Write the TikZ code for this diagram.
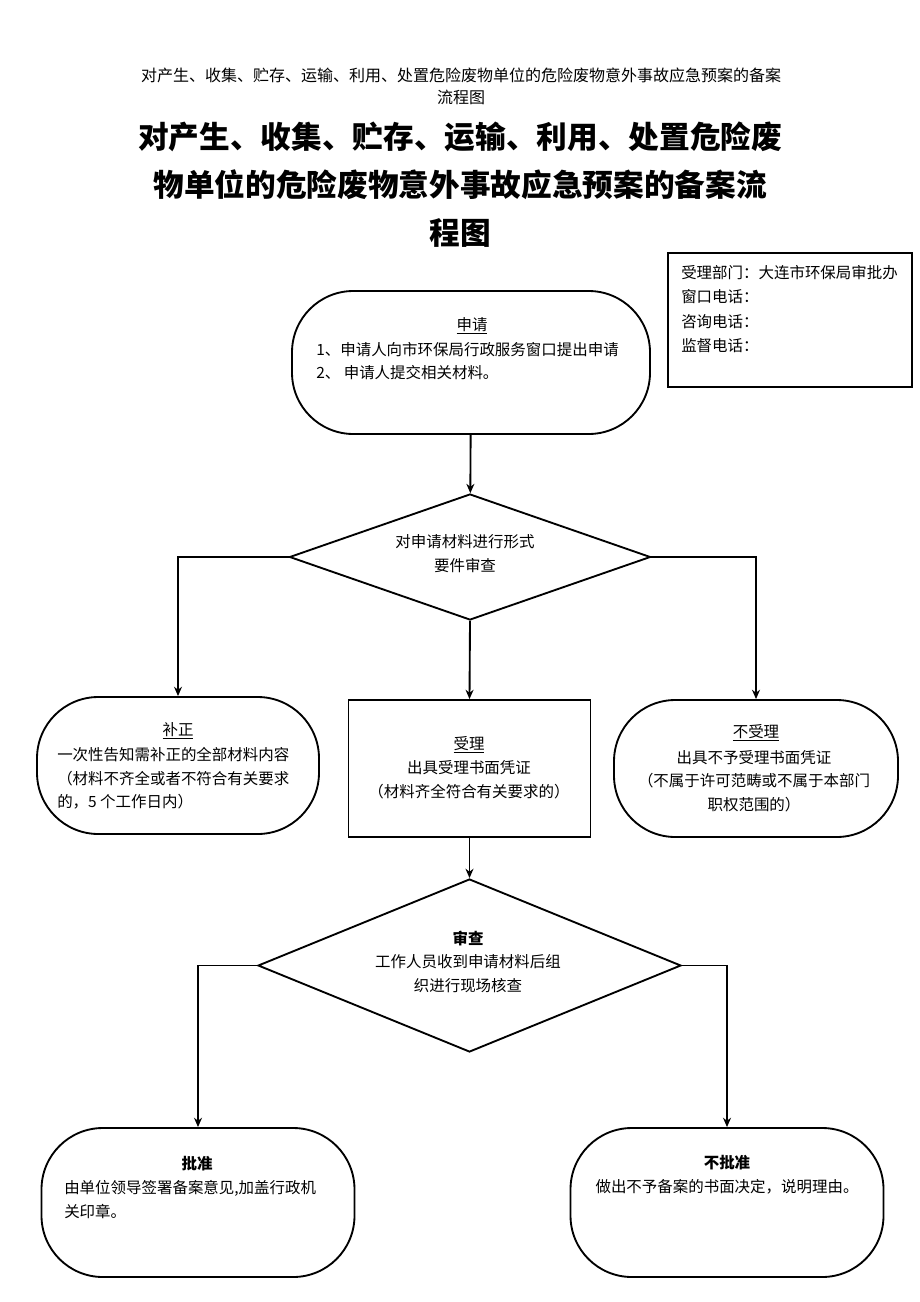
\documentclass[tikz,border=0pt]{standalone}
\usepackage{fontspec}
\newfontfamily\cjk{Noto Sans CJK SC}
\usetikzlibrary{shapes.geometric,arrows.meta}

\newcommand{\flowtxt}{\cjk\fontsize{11.6}{17.6}\selectfont}

\begin{document}
\begin{tikzpicture}[x=0.75pt, y=-0.75pt,
 every edge/.style = {->, >={Stealth[length=7pt,width=6pt]}, draw, line width=1.4pt},
 elbow/.style = {to path={-| (\tikztotarget)}},
 stad/.style args = {#1/#2}{draw, line width=1.4pt, rounded corners=46pt, minimum width=#1, minimum height=#2, inner sep=0pt},
 rbox/.style args = {#1/#2}{draw, line width=1.4pt, minimum width=#1, minimum height=#2, inner sep=0pt},
 dmd/.style args = {#1/#2}{diamond, draw, line width=1.4pt, minimum width=#1, minimum height=#2, inner sep=0pt},
 txt/.style = {font=\flowtxt, inner sep=0pt, align=#1},
 txt/.default = center]

\useasboundingbox (0,0) rectangle (920,1302);

% headings
\node(hd) [font=\cjk\fontsize{12}{16}\selectfont, align=center, inner sep=0pt] at (461,86.5)
  {对产生、收集、贮存、运输、利用、处置危险废物单位的危险废物意外事故应急预案的备案\\流程图};
\node(ttl) [font=\cjk\bfseries\fontsize{23}{36}\selectfont, align=center, inner sep=0pt] at (460,185)
  {对产生、收集、贮存、运输、利用、处置危险废\\物单位的危险废物意外事故应急预案的备案流\\程图};

% contact box
\node(info) [rbox=183pt/100.5pt, line width=0.9pt] at (790,320) {};
\node(info-t) [txt=left, anchor=west, font=\cjk\fontsize{11.6}{18.2}\selectfont] at (681,309)
  {受理部门：大连市环保局审批办\\窗口电话：\\咨询电话：\\监督电话：};

% apply
\node(sq) [stad=268.5pt/107.25pt] at (471,362.5) {};
\node(sq-h) [txt] at (472,326) {\underline{申请}};
\node(sq-t) [txt=left, anchor=west] at (316,361) {1、申请人向市环保局行政服务窗口提出申请\\2、 申请人提交相关材料。};

% formal check
\node(d1) [dmd=270.75pt/94.5pt] at (470,557) {};
\node(d1-t) [txt] at (465,553.5) {对申请材料进行形式\\要件审查};

% three outcomes
\node(bz) [stad=211.5pt/102.75pt] at (178,765.5) {};
\node(bz-h) [txt] at (178,731) {\underline{补正}};
\node(bz-t) [txt=left, anchor=west] at (57,778.5) {一次性告知需补正的全部材料内容\\（材料不齐全或者不符合有关要求\\的，5 个工作日内）};

\node(sl) [rbox=181.5pt/102.75pt] at (469.5,768.5) {};
\node(sl-h) [txt] at (469,745) {\underline{受理}};
\node(sl-t) [txt] at (469,779.5) {出具受理书面凭证\\（材料齐全符合有关要求的）};

\node(bsl) [stad=213pt/102.75pt] at (756,768.5) {};
\node(bsl-h) [txt] at (756,733) {\underline{不受理}};
\node(bsl-t) [txt] at (754,781) {出具不予受理书面凭证\\（不属于许可范畴或不属于本部门\\职权范围的）};

% site check
\node(d2) [dmd=317.25pt/129.75pt] at (469.5,965.5) {};
\node(d2-h) [txt, font=\flowtxt\bfseries] at (468,938) {审查};
\node(d2-t) [txt] at (468,973.5) {工作人员收到申请材料后组\\织进行现场核查};

% decision
\node(pz) [stad=234.75pt/111.75pt] at (198,1202.5) {};
\node(pz-h) [txt, font=\flowtxt\bfseries] at (197,1164) {批准};
\node(pz-t) [txt=left, anchor=west] at (64,1199.5) {由单位领导签署备案意见,加盖行政机\\关印章。};

\node(bpz) [stad=234.75pt/111.75pt] at (727,1202.5) {};
\node(bpz-h) [txt, font=\flowtxt\bfseries] at (727,1163) {不批准};
\node(bpz-t) [txt] at (727,1187) {做出不予备案的书面决定，说明理由。};
%
\path   (sq) edge (d1)
        (d1.west) edge [elbow] (bz.north)
        (d1.south) edge (sl.north)
        (d1.east) edge [elbow] (bsl.north)
        (sl) edge (d2)
        (d2.west) edge [elbow] (pz.north)
        (d2.east) edge [elbow] (bpz.north);

\end{tikzpicture}
\end{document}
